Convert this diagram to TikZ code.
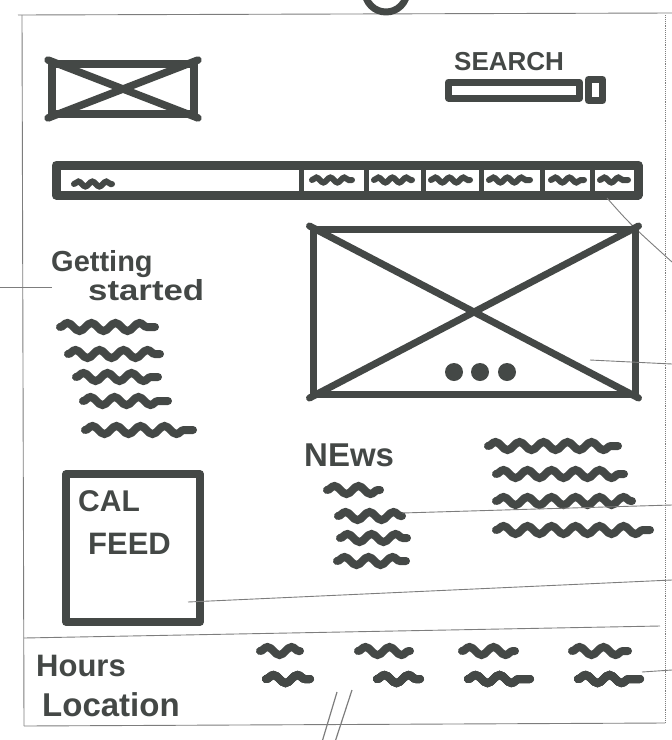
\documentclass[tikz,border=0pt]{standalone}
\usepackage{fontspec}
\setmainfont{Liberation Sans}
\usetikzlibrary{positioning,decorations.pathmorphing}
\definecolor{marker}{RGB}{68,72,70}
\definecolor{pencil}{RGB}{125,125,125}
\tikzset{
  marker/.style={draw=marker,line width=7.5pt,line cap=round,line join=round},
  wave/.style={draw=marker,line width=8pt,line cap=round,decorate,
    decoration={snake,amplitude=4pt,segment length=24pt}},
  smallwave/.style={wave,line width=6pt,decoration={snake,amplitude=2.5pt,segment length=14pt}},
  pencil line/.style={draw=pencil,line width=0.9pt},
  hand/.style={text=marker,font=\bfseries,inner sep=0pt,anchor=west}
}
\newcommand{\wavy}[4][wave]{\draw[#1] (#2,#4) -- (#3,#4);}
\newcommand{\handsize}[1]{\bfseries\fontsize{#1}{#1}\selectfont}
\begin{document}
\begin{tikzpicture}[x=1pt,y=-1pt]
\useasboundingbox (0,0) rectangle (672,740);
\clip (0,0) rectangle (672,740);
% sheet
\draw[pencil line] (18,15) -- (672,13);
\draw[pencil line] (22,15) -- (24,726);
\draw[pencil line] (24,726) -- (665,723);
\draw[pencil line,densely dotted] (665,15) -- (665,723);
\draw[marker,line width=7pt] (386,-9) circle (21);
% header
\node[marker,line width=8pt,minimum width=142pt,minimum height=50pt,inner sep=0pt] (logo) at (123,89) {};
\draw[marker] (logo.north west) -- (logo.south east);
\draw[marker] (logo.south west) -- (logo.north east);
\node[hand,font=\handsize{26}] (search) at (454,62) {SEARCH};
\node[marker,line width=7pt,minimum width=131pt,minimum height=16pt,inner sep=0pt] (searchbar) at (514,90) {};
\node[marker,line width=7pt,minimum width=14pt,minimum height=21pt,inner sep=0pt,right=2pt of searchbar] (searchbtn) {};
% nav bar
\node[marker,line width=9pt,minimum width=582pt,minimum height=30pt,inner sep=0pt] (nav) at (347,180) {};
\foreach \x in {301,366,423,481,542,592}
  \draw[marker,line width=5pt] (\x,166) -- (\x,194);
\wavy[smallwave]{74}{112}{184}
\foreach \a/\b in {312/352,374/412,431/470,489/530,551/584,600/628}
  \wavy[smallwave]{\a}{\b}{180}
\coordinate (navnote) at (672,262);
\draw[pencil line] (607,198) .. controls (630,224) .. (navnote);
% getting started
\coordinate (leftnote) at (0,287);
\node[hand,font=\handsize{29}] (getting) at (51,264) {Getting};
\node[hand,font=\handsize{29}] (started) at (88,290) {\scalebox{1.2}[1]{started}};
\draw[pencil line] (leftnote) -- (52,287);
\wavy{60}{155}{327}
\wavy{68}{160}{354}
\wavy{76}{158}{377}
\wavy{83}{168}{401}
\wavy{85}{193}{430}
% hero
\node[marker,line width=7pt,minimum width=322pt,minimum height=165pt,inner sep=0pt] (hero) at (474,312) {};
\draw[marker,line width=7pt] (hero.north west) -- (hero.south east);
\draw[marker,line width=7pt] (hero.south west) -- (hero.north east);
\foreach \x in {454,480,507}
  \fill[fill=marker] (\x,372) circle (9);
\coordinate (heronote) at (672,364);
\draw[pencil line] (590,360) -- (heronote);
% news
\node[hand,font=\handsize{33}] (news) at (304,455) {NEws};
\wavy{327}{380}{490}
\wavy{338}{402}{516}
\wavy{340}{407}{538}
\wavy{337}{406}{561}
\wavy{488}{618}{446}
\wavy{496}{624}{474}
\wavy{496}{632}{501}
\wavy{496}{650}{530}
\coordinate (newsnote) at (672,505);
\draw[pencil line] (402,513) -- (newsnote);
% calendar
\node[marker,minimum width=134pt,minimum height=148pt,inner sep=0pt] (calfeed) at (133,548) {};
\node[hand,font=\handsize{30}] (cal) at (78,501) {CAL};
\node[hand,font=\handsize{31}] (feed) at (88,544) {FEED};
\coordinate (calnote) at (672,580);
\draw[pencil line] (188,602) -- (calnote);
% footer
\draw[pencil line] (24,638) -- (660,626);
\node[hand,font=\handsize{31}] (hours) at (36,666) {Hours};
\node[hand,font=\handsize{33}] (location) at (42,705) {Location};
\foreach \a/\b in {260/300,358/410,462/515,572/628}
  \wavy{\a}{\b}{651}
\foreach \a/\b in {266/310,377/420,468/530,578/640}
  \wavy{\a}{\b}{679}
\coordinate (footnote) at (672,670);
\draw[pencil line] (642,672) -- (footnote);
\draw[pencil line,line width=1.2pt] (322,742) -- (337,692);
\draw[pencil line,line width=1.2pt] (335,742) -- (352,690);
\end{tikzpicture}
\end{document}
